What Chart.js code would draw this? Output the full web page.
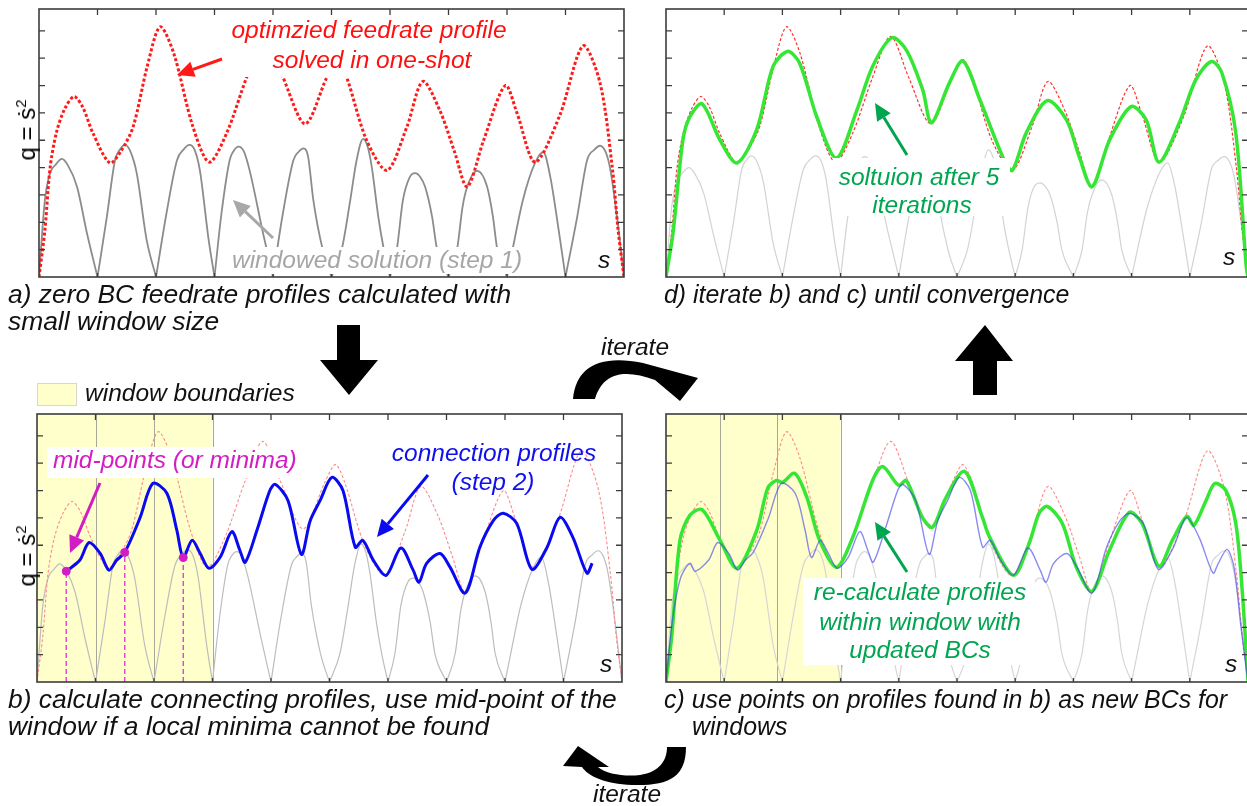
<!DOCTYPE html>
<html>
<head>
<meta charset="utf-8">
<script src="https://cdn.jsdelivr.net/npm/chart.js@4.4.0/dist/chart.umd.min.js"></script>
<style>
html,body{margin:0;padding:0;background:#fff;width:1247px;height:806px;overflow:hidden;position:relative;font-family:'Liberation Sans',Arial,sans-serif}
canvas.ch{position:absolute;z-index:1}
.box{position:absolute;background:#fff;z-index:2}
#overlay{position:absolute;left:0;top:0;z-index:3;pointer-events:none}
.t{position:absolute;white-space:nowrap;font-style:italic;font-size:24.5px;line-height:27px;z-index:4;color:#111}
.c{transform:translateX(-50%)}
.capL{font-size:26.4px}
.capR{font-size:24.9px}
.ylab{position:absolute;z-index:4;font-size:24px;line-height:26px;white-space:nowrap;transform:translate(-50%,-50%) rotate(-90deg)}
.ylab sup{font-size:15px;vertical-align:9px;line-height:0}
</style>
</head>
<body>
<canvas id="chA" class="ch"></canvas>
<canvas id="chB" class="ch"></canvas>
<canvas id="chC" class="ch"></canvas>
<canvas id="chD" class="ch"></canvas>

<div class="box" style="left:225px;top:16px;width:287px;height:61px"></div>
<div class="box" style="left:225px;top:247px;width:305px;height:27px"></div>
<div class="box" style="left:47px;top:447px;width:253px;height:31px"></div>
<div class="box" style="left:803px;top:578px;width:232px;height:87px"></div>
<div class="box" style="left:833px;top:158px;width:177px;height:58px"></div>
<div style="position:absolute;left:37px;top:383px;width:38px;height:21px;background:#ffffcc;border:1px solid #d8d8c8;z-index:2"></div>

<canvas id="overlay" width="1247" height="806"></canvas>

<div class="ylab" style="left:27px;top:130px">q = ṡ<sup>2</sup></div>
<div class="ylab" style="left:27px;top:556px">q = ṡ<sup>2</sup></div>

<div class="t c" style="left:369px;top:16px;color:#ff1010">optimzied feedrate profile</div>
<div class="t c" style="left:372px;top:46px;color:#ff1010">solved in one-shot</div>
<div class="t c" style="left:377px;top:246px;color:#a6a6a6">windowed solution (step 1)</div>
<div class="t" style="left:598px;top:246px">s</div>
<div class="t capL" style="left:8px;top:281px">a) zero BC feedrate profiles calculated with</div>
<div class="t capL" style="left:8px;top:308px">small window size</div>

<div class="t c" style="left:919px;top:163px;color:#00a550">soltuion after 5</div>
<div class="t c" style="left:922px;top:191px;color:#00a550">iterations</div>
<div class="t" style="left:1223px;top:243px">s</div>
<div class="t capR" style="left:664px;top:281px">d) iterate b) and c) until convergence</div>

<div class="t" style="left:85px;top:379px">window boundaries</div>
<div class="t c" style="left:635px;top:333px">iterate</div>

<div class="t" style="left:53px;top:446px;color:#d21dc4">mid-points (or minima)</div>
<div class="t c" style="left:494px;top:439px;color:#1010ee">connection profiles</div>
<div class="t c" style="left:493px;top:468px;color:#1010ee">(step 2)</div>
<div class="t" style="left:600px;top:650px">s</div>
<div class="t capL" style="left:8px;top:686px">b) calculate connecting profiles, use mid-point of the</div>
<div class="t capL" style="left:8px;top:713px">window if a local minima cannot be found</div>

<div class="t c" style="left:920px;top:578px;color:#00a550">re-calculate profiles</div>
<div class="t c" style="left:920px;top:608px;color:#00a550">within window with</div>
<div class="t c" style="left:920px;top:636px;color:#00a550">updated BCs</div>
<div class="t" style="left:1225px;top:650px">s</div>
<div class="t capR" style="left:664px;top:686px">c) use points on profiles found in b) as new BCs for</div>
<div class="t capR" style="left:692px;top:713px">windows</div>

<div class="t c" style="left:627px;top:780px">iterate</div>

<script>
// tick positions on every panel frame
const xTicks = [1, 2, 3, 4, 5, 6, 7, 8, 9];
const yTicks = [1, 2, 3, 4, 5, 6, 7, 8, 9];

// one-shot optimised profile (red)
const redX = [0, 0.1, 0.19, 0.3, 0.44, 0.6, 0.75, 0.92, 1.21, 1.4, 1.61, 1.85, 2.07, 2.3, 2.63, 2.91, 3.21, 3.55, 3.86, 4.17,
  4.55, 4.92, 5.1, 5.26, 5.6, 5.95, 6.29, 6.56, 6.85, 7.1, 7.32, 7.6, 7.97, 8.17, 8.48, 8.9, 9.3, 9.59, 9.8, 9.9, 10];
const redY = [0, 1.7, 4.0, 5.3, 6.15, 6.6, 6.2, 5.27, 4.17, 4.6, 5.5, 7.7, 9.15, 8.2, 5.5, 4.2, 5.27, 7.3, 8.8, 7.3,
  5.6, 7.3, 7.95, 7.3, 5.0, 3.9, 5.5, 7.15, 6.1, 4.6, 3.3, 5.0, 7.0, 6.0, 4.2, 5.9, 8.45, 7.1, 4.0, 1.7, 0];

// windowed solution, one arch per window (gray)
const archX = [
  [0, 0.1, 0.19, 0.29, 0.39, 0.49, 0.65, 0.82, 1],
  [1, 1.16, 1.3, 1.38, 1.47, 1.56, 1.67, 1.84, 2],
  [2, 2.18, 2.36, 2.47, 2.57, 2.66, 2.75, 2.9, 3],
  [3, 3.12, 3.26, 3.33, 3.41, 3.5, 3.6, 3.83, 4],
  [4, 4.17, 4.35, 4.44, 4.52, 4.6, 4.69, 4.85, 5],
  [5, 5.18, 5.32, 5.43, 5.54, 5.62, 5.69, 5.8, 5.89, 6],
  [6, 6.12, 6.22, 6.34, 6.43, 6.52, 6.6, 6.72, 6.8, 7],
  [7, 7.15, 7.24, 7.32, 7.49, 7.66, 7.76, 7.83, 8],
  [8, 8.1, 8.27, 8.48, 8.62, 8.74, 8.85, 9],
  [9, 9.2, 9.37, 9.49, 9.59, 9.68, 9.76, 9.88, 10]
];
const archY = [
  [0, 2.8, 3.8, 4.12, 4.32, 4.1, 3.3, 1.6, 0],
  [0, 2.2, 4.28, 4.65, 4.83, 4.6, 3.8, 1.36, 0],
  [0, 2.34, 4.28, 4.66, 4.83, 4.65, 3.9, 1.36, 0],
  [0, 2.34, 4.28, 4.62, 4.77, 4.6, 3.9, 1.6, 0],
  [0, 2.34, 4.28, 4.58, 4.7, 4.4, 2.8, 1.0, 0],
  [0, 1.06, 2.8, 4.28, 5.05, 4.75, 4.0, 2.2, 1.06, 0],
  [0, 1.06, 2.8, 3.66, 3.8, 3.65, 3.3, 2.2, 1.06, 0],
  [0, 1.06, 2.56, 3.3, 3.88, 3.3, 2.2, 1.06, 0],
  [0, 1.06, 2.8, 4.17, 4.57, 3.66, 2.2, 0],
  [0, 2.2, 4.28, 4.65, 4.8, 4.6, 4.0, 2.2, 0]
];
// same arches as drawn in panel d (a little lower)
const archYd = [
  [0, 2.6, 3.5, 3.82, 4.0, 3.8, 3.05, 1.5, 0],
  [0, 2.0, 3.93, 4.27, 4.43, 4.22, 3.5, 1.25, 0],
  [0, 2.15, 3.93, 4.28, 4.43, 4.27, 3.58, 1.25, 0],
  [0, 2.15, 3.93, 4.25, 4.4, 4.23, 3.6, 1.5, 0],
  [0, 2.15, 3.93, 4.2, 4.32, 4.05, 2.6, 0.95, 0],
  [0, 1.0, 2.6, 3.93, 4.65, 4.37, 3.7, 2.0, 1.0, 0],
  [0, 1.0, 2.55, 3.35, 3.44, 3.3, 3.0, 2.0, 1.0, 0],
  [0, 1.0, 2.35, 3.0, 3.55, 3.0, 2.0, 1.0, 0],
  [0, 1.0, 2.55, 3.8, 4.17, 3.35, 2.0, 0],
  [0, 2.0, 3.93, 4.27, 4.4, 4.22, 3.7, 2.0, 0]
];

// connection profiles (blue, step 2)
const blueX = [0.5, 0.73, 0.89, 1.08, 1.23, 1.36, 1.5, 1.76, 1.98, 2.22, 2.39, 2.5, 2.65, 2.79, 2.94, 3.13, 3.33, 3.47, 3.56, 3.76,
  3.98, 4.07, 4.29, 4.52, 4.67, 4.84, 5.04, 5.23, 5.44, 5.57, 5.75, 5.97, 6.22, 6.43, 6.53, 6.66, 6.89, 7.06, 7.32, 7.57,
  7.8, 7.97, 8.2, 8.46, 8.72, 8.94, 9.16, 9.4, 9.49];
const blueY = [4.05, 4.45, 5.1, 4.7, 4.09, 4.45, 4.74, 6.0, 7.26, 6.9, 5.55, 4.55, 5.18, 4.7, 4.16, 4.56, 5.5, 4.8, 4.38, 5.55,
  7.0, 7.23, 6.64, 4.67, 5.9, 6.64, 7.48, 7.0, 4.93, 5.18, 4.45, 3.9, 4.9, 4.09, 3.65, 4.34, 4.7, 4.2, 3.25, 4.93,
  5.9, 6.17, 5.8, 4.12, 4.93, 6.02, 5.29, 3.98, 4.34];
// extra ends of the blue profile seen in panel c
const blueHeadX = [0, 0.12, 0.25, 0.41];
const blueHeadY = [0, 2.4, 3.8, 4.34];
const blueTailX = [9.64, 9.76, 9.88, 10];
const blueTailY = [4.85, 4.2, 2.0, 0];

// mid-points of the windows
const midX = [0.5, 1.5, 2.5];
const midY = [4.05, 4.74, 4.55];

// re-calculated profile in panel c (green)
const greenCX = [0, 0.1, 0.24, 0.41, 0.62, 0.93, 1.22, 1.56, 1.75, 1.9, 2.0, 2.21, 2.42, 2.64, 2.93, 3.21, 3.55, 3.72, 3.96, 4.02,
  4.13, 4.41, 4.58, 4.8, 5.13, 5.44, 5.56, 5.97, 6.24, 6.41, 6.55, 6.81, 7.05, 7.32, 7.62, 7.96, 8.18, 8.47, 8.7, 8.95,
  9.07, 9.28, 9.43, 9.62, 9.79, 9.9, 10];
const greenCY = [0, 1.7, 5.18, 6.1, 6.3, 5.18, 4.16, 5.55, 7.1, 7.37, 7.3, 7.63, 6.75, 5.18, 4.2, 5.3, 7.37, 7.88, 7.26, 7.2,
  7.37, 6.0, 5.66, 6.7, 7.7, 6.0, 5.3, 3.9, 5.07, 6.17, 6.42, 5.8, 4.2, 3.32, 4.82, 6.2, 5.8, 4.23, 5.18, 6.06,
  5.73, 6.64, 7.26, 7.0, 5.8, 3.36, 0];

// solution after 5 iterations (green, panel d)
const greenDX = [0, 0.12, 0.29, 0.41, 0.62, 0.93, 1.22, 1.56, 1.84, 2.09, 2.3, 2.59, 2.93, 3.28, 3.55, 3.88, 4.13, 4.41, 4.56, 4.87,
  5.1, 5.39, 5.81, 5.95, 6.19, 6.55, 6.88, 7.1, 7.32, 7.62, 7.99, 8.25, 8.47, 8.82, 9.1, 9.37, 9.55, 9.79, 9.97, 10];
const greenDY = [0, 1.6, 5.0, 5.86, 6.33, 5.0, 4.17, 5.4, 7.7, 8.25, 7.8, 5.86, 4.35, 6.1, 7.7, 8.75, 8.3, 6.85, 5.64, 7.1,
  7.9, 6.5, 4.28, 3.9, 5.27, 6.45, 5.75, 4.4, 3.3, 5.0, 6.23, 5.75, 4.2, 5.64, 7.2, 7.88, 7.47, 5.27, 0.37, 0];

// window shading and boundaries
const shadeB = [0, 3], linesB = [1, 2];
const shadeC = [0, 3], linesC = [0.92, 1.9];

Chart.defaults.font.family = "'Liberation Sans', Arial, sans-serif";
Chart.defaults.animation = false;
Chart.defaults.elements.point.radius = 0;
Chart.defaults.elements.line.tension = 0.3;

const pts = (xs, ys) => xs.map((x, i) => ({ x: x, y: ys[i] }));

function arches(ys, color, width) {
  return archX.map((xs, k) => ({
    data: pts(xs, ys[k]), borderColor: color, borderWidth: width, cubicInterpolationMode: 'monotone', order: 9
  }));
}

const framePlugin = {
  id: 'frame',
  beforeDatasetsDraw(chart, args, opts) {
    if (!opts.shade) return;
    const { ctx, chartArea: a, scales: { x } } = chart;
    const x0 = x.getPixelForValue(opts.shade[0]), x1 = x.getPixelForValue(opts.shade[1]);
    ctx.save();
    ctx.fillStyle = '#ffffcc';
    ctx.fillRect(x0, a.top, x1 - x0, a.bottom - a.top);
    ctx.strokeStyle = '#a8a89a';
    ctx.lineWidth = 1;
    ctx.beginPath();
    [...opts.lines, opts.shade[1]].forEach(v => {
      const px = Math.round(x.getPixelForValue(v)) + 0.5;
      ctx.moveTo(px, a.top); ctx.lineTo(px, a.bottom);
    });
    ctx.stroke();
    ctx.restore();
  },
  afterDatasetsDraw(chart) {
    const { ctx, chartArea: a, scales: { x, y } } = chart;
    ctx.save();
    ctx.strokeStyle = '#3c3c3c';
    ctx.lineWidth = 1.3;
    ctx.beginPath();
    xTicks.forEach(v => {
      const px = x.getPixelForValue(v);
      ctx.moveTo(px, a.top); ctx.lineTo(px, a.top + 6);
      ctx.moveTo(px, a.bottom); ctx.lineTo(px, a.bottom - 4);
    });
    yTicks.forEach(v => {
      const py = y.getPixelForValue(v);
      ctx.moveTo(a.left, py); ctx.lineTo(a.left + 6, py);
      ctx.moveTo(a.right, py); ctx.lineTo(a.right - 6, py);
    });
    ctx.stroke();
    ctx.lineWidth = 1.6;
    ctx.strokeRect(a.left, a.top, a.right - a.left, a.bottom - a.top);
    ctx.restore();
  }
};

const PAD = 6;
function panel(id, left, top, w, h, datasets, frameOpts) {
  const cv = document.getElementById(id);
  cv.width = w + 2 * PAD; cv.height = h + 2 * PAD;
  cv.style.left = (left - PAD) + 'px'; cv.style.top = (top - PAD) + 'px';
  return new Chart(cv, {
    type: 'line',
    data: { datasets: datasets },
    options: {
      responsive: false,
      devicePixelRatio: 1,
      layout: { padding: PAD },
      scales: {
        x: { type: 'linear', min: 0, max: 10, display: false },
        y: { type: 'linear', min: 0, max: 9.8, display: false }
      },
      plugins: { legend: { display: false }, tooltip: { enabled: false }, frame: frameOpts || {} }
    },
    plugins: [framePlugin]
  });
}

// a) windowed + one-shot
panel('chA', 39, 9, 585, 268, [
  { data: pts(redX, redY), borderColor: '#ff1a1a', borderWidth: 3, borderDash: [3, 2.2], order: 1 },
  ...arches(archY, '#8c8c8c', 1.8)
]);

// b) connection profiles
const dashSets = midX.map((mx, i) => ({
  data: pts([mx, mx], [0, midY[i]]), borderColor: '#e040d8', borderWidth: 1.4, borderDash: [5, 3], tension: 0, order: 2
}));
panel('chB', 37, 414, 585, 268, [
  { data: pts(midX, midY), showLine: false, pointRadius: 4, pointBackgroundColor: '#d21dc4', pointBorderColor: '#d21dc4', order: 0 },
  ...dashSets,
  { data: pts(blueX, blueY), borderColor: '#0a0af0', borderWidth: 3, order: 3 },
  { data: pts(redX, redY), borderColor: '#ff8a8a', borderWidth: 1.1, borderDash: [3, 2], order: 4 },
  ...arches(archY, '#bdbdbd', 1.2)
], { shade: shadeB, lines: linesB });

// c) re-calculated within windows
panel('chC', 666, 414, 582, 268, [
  { data: pts([...blueHeadX, ...blueX, ...blueTailX], [...blueHeadY, ...blueY, ...blueTailY]),
    borderColor: 'rgba(60,60,235,0.6)', borderWidth: 1.4, order: 1 },
  { data: pts(greenCX, greenCY), borderColor: '#35e635', borderWidth: 3.5, order: 2 },
  { data: pts(redX, redY), borderColor: '#ff8a8a', borderWidth: 1.1, borderDash: [3, 2], order: 3 },
  ...arches(archY, '#d6d6d6', 1.2)
], { shade: shadeC, lines: linesC });

// d) converged
panel('chD', 666, 9, 582, 268, [
  { data: pts(greenDX, greenDY), borderColor: '#35e635', borderWidth: 3.5, order: 1 },
  { data: pts(redX, redY), borderColor: '#ff3030', borderWidth: 1.2, borderDash: [3, 2], order: 2 },
  ...arches(archYd, '#d3d3d3', 1.2)
]);

// arrows between and inside panels
const ov = document.getElementById('overlay').getContext('2d');
function arrow(x1, y1, x2, y2, color, w, hl, hw) {
  const ang = Math.atan2(y2 - y1, x2 - x1);
  const bx = x2 - hl * Math.cos(ang), by = y2 - hl * Math.sin(ang);
  ov.strokeStyle = color; ov.lineWidth = w;
  ov.beginPath(); ov.moveTo(x1, y1); ov.lineTo(bx, by); ov.stroke();
  ov.fillStyle = color;
  ov.beginPath();
  ov.moveTo(x2, y2);
  ov.lineTo(bx + hw * Math.sin(ang), by - hw * Math.cos(ang));
  ov.lineTo(bx - hw * Math.sin(ang), by + hw * Math.cos(ang));
  ov.closePath(); ov.fill();
}
function poly(p) {
  ov.fillStyle = '#000';
  ov.beginPath(); ov.moveTo(p[0][0], p[0][1]);
  p.slice(1).forEach(q => ov.lineTo(q[0], q[1]));
  ov.closePath(); ov.fill();
}
arrow(222, 59, 177, 75, '#ff1a1a', 3, 17, 8);
arrow(273, 238, 233, 200, '#a8a8a8', 3, 17, 8);
arrow(100, 483, 70, 553, '#d21dc4', 3, 17, 8);
arrow(428, 475, 377, 537, '#0a0af0', 3, 17, 8);
arrow(907, 155, 875, 103, '#00a550', 3, 17, 8);
arrow(907, 572, 875, 522, '#00a550', 3, 17, 8);

// big block arrows
poly([[337, 325], [360, 325], [360, 360], [378, 360], [349, 395], [320, 360], [337, 360]]);
poly([[973, 395], [997, 395], [997, 361], [1013, 361], [985, 325], [955, 361], [973, 361]]);

// curved "iterate" arrows
ov.fillStyle = '#000';
ov.beginPath();
ov.moveTo(573, 399);
ov.bezierCurveTo(576, 368, 598, 354, 643, 363);
ov.lineTo(698, 378);
ov.lineTo(680, 401);
ov.lineTo(655, 380);
ov.bezierCurveTo(625, 369, 603, 372, 595, 399);
ov.closePath();
ov.fill();

ov.beginPath();
ov.moveTo(667, 747);
ov.lineTo(686, 747);
ov.bezierCurveTo(686, 778, 668, 786, 632, 785);
ov.bezierCurveTo(605, 784, 588, 776, 582, 767);
ov.lineTo(563, 766);
ov.lineTo(578, 746);
ov.lineTo(609, 767);
ov.lineTo(598, 767);
ov.bezierCurveTo(606, 774, 625, 777, 640, 775);
ov.bezierCurveTo(660, 772, 667, 760, 667, 747);
ov.closePath();
ov.fill();
</script>
</body>
</html>
